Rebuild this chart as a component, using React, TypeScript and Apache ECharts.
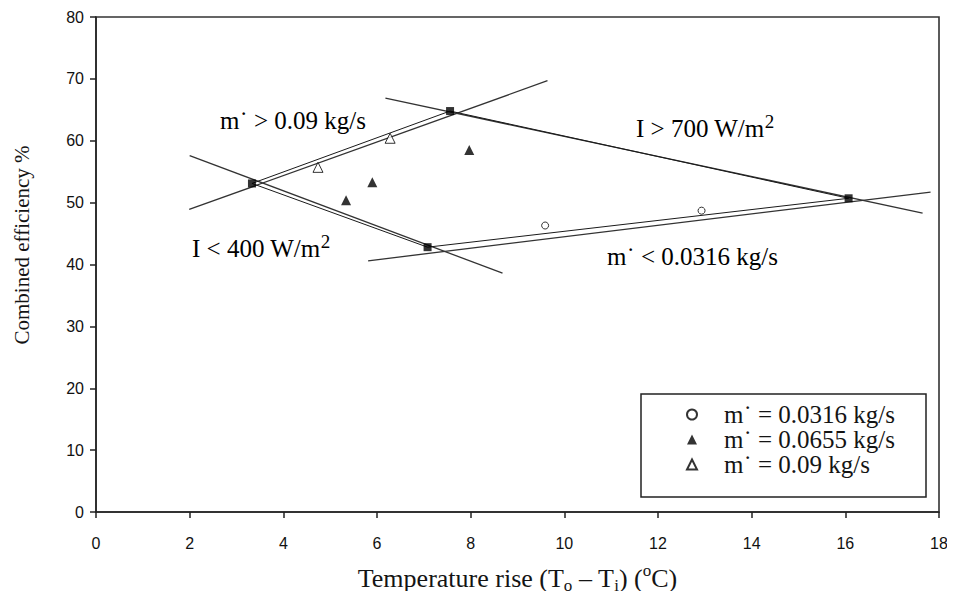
import React, { useEffect, useRef } from "react";
import * as echarts from "echarts";

// Measured points for each mass flow rate
const flow0316: number[][] = [
  [9.59, 46.3],
  [12.93, 48.7],
];
const flow0655: number[][] = [
  [5.34, 50.4],
  [5.9, 53.3],
  [7.97, 58.5],
];
const flow09: number[][] = [
  [4.74, 55.7],
  [6.28, 60.4],
];

// Corner points of the operating envelope
const corners: number[][] = [
  [3.33, 53.1],
  [7.56, 64.8],
  [7.08, 42.8],
  [16.07, 50.7],
];

// Extended boundary lines of the envelope
const lineHighFlow: number[][] = [
  [1.99, 48.9],
  [9.64, 69.7],
];
const lineLowIrr: number[][] = [
  [2.0, 57.6],
  [8.68, 38.6],
];
const lineHighIrr: number[][] = [
  [6.18, 66.9],
  [17.65, 48.3],
];
const lineLowFlow: number[][] = [
  [5.81, 40.6],
  [17.82, 51.7],
];

// Edges joining neighbouring corners
const edges: number[][][] = [
  [corners[0], corners[1]],
  [corners[1], corners[3]],
  [corners[0], corners[2]],
  [corners[2], corners[3]],
];

const xTicks = { min: 0, max: 18, interval: 2 };
const yTicks = { min: 0, max: 80, interval: 10 };

const legendNames = [
  "m\u02D9 = 0.0316 kg/s",
  "m\u02D9 = 0.0655 kg/s",
  "m\u02D9 = 0.09 kg/s",
];

const SERIF = "'Liberation Serif', 'Times New Roman', serif";
const SANS = "'Liberation Sans', Arial, sans-serif";
const INK = "#141414";

const richNote = {
  t: { fontFamily: SERIF, fontSize: 25, color: INK, lineHeight: 32 },
  s: { fontFamily: SERIF, fontSize: 19, color: INK, lineHeight: 19, verticalAlign: "top" },
};

export default function App() {
  const ref = useRef<HTMLDivElement>(null);

  useEffect(() => {
    if (!ref.current) return;
    const chart = echarts.init(ref.current, undefined, { renderer: "svg" });

    const lineSeries = (data: number[][], width: number, color: string) => ({
      type: "line",
      data,
      symbol: "none",
      silent: true,
      lineStyle: { color, width },
      z: 1,
    });

    chart.setOption({
      animation: false,
      backgroundColor: "#fff",
      grid: {
        left: 96,
        right: 16,
        top: 17,
        bottom: 82,
        show: true,
        borderColor: "#333",
        borderWidth: 1.6,
      },
      xAxis: {
        type: "value",
        ...xTicks,
        name: "{a|Temperature rise (T}{sub|o}{a| \u2013 T}{sub|i}{a|) (}{sup|o}{a|C)}",
        nameLocation: "middle",
        nameGap: 50,
        nameTextStyle: {
          rich: {
            a: { fontFamily: SERIF, fontSize: 26, color: INK, lineHeight: 32 },
            sub: { fontFamily: SERIF, fontSize: 17, color: INK, lineHeight: 17, verticalAlign: "bottom" },
            sup: { fontFamily: SERIF, fontSize: 17, color: INK, lineHeight: 17, verticalAlign: "top" },
          },
        },
        splitLine: { show: false },
        axisLine: { onZero: false, lineStyle: { color: "#222", width: 1.5 } },
        axisTick: { inside: false, length: 6, lineStyle: { color: "#222", width: 1.5 } },
        axisLabel: { fontFamily: SANS, fontSize: 16, color: "#111", margin: 23 },
      },
      yAxis: {
        type: "value",
        ...yTicks,
        splitLine: { show: false },
        axisLine: { onZero: false, lineStyle: { color: "#222", width: 1.5 } },
        axisTick: { inside: false, length: 6, lineStyle: { color: "#222", width: 1.5 } },
        axisLabel: { fontFamily: SANS, fontSize: 16, color: "#111", margin: 12 },
      },
      legend: {
        left: 681,
        top: 397,
        orient: "vertical",
        itemWidth: 10,
        itemHeight: 10,
        itemGap: 0,
        data: legendNames,
        textStyle: {
          fontFamily: SERIF,
          fontSize: 25,
          color: INK,
          lineHeight: 25,
          padding: [0, 0, 0, 22],
        },
      },
      graphic: [
        {
          type: "rect",
          shape: { x: 641, y: 394, width: 285, height: 103 },
          style: { fill: "none", stroke: "#222", lineWidth: 1.5 },
          z: 0,
        },
        {
          type: "text",
          x: 22,
          y: 245,
          rotation: Math.PI / 2,
          style: {
            text: "Combined efficiency %",
            fontFamily: SERIF,
            fontSize: 21,
            fill: INK,
            align: "center",
            verticalAlign: "middle",
          },
        },
        {
          type: "text",
          x: 220,
          y: 104,
          style: { text: "{t|m\u02D9 > 0.09 kg/s}", rich: richNote },
        },
        {
          type: "text",
          x: 192,
          y: 232,
          style: { text: "{t|I < 400 W/m}{s|2}", rich: richNote },
        },
        {
          type: "text",
          x: 636,
          y: 112,
          style: { text: "{t|I > 700 W/m}{s|2}", rich: richNote },
        },
        {
          type: "text",
          x: 607,
          y: 240,
          style: { text: "{t|m\u02D9 < 0.0316 kg/s}", rich: richNote },
        },
      ],
      series: [
        lineSeries(lineHighFlow, 1.3, "#333"),
        lineSeries(lineLowIrr, 1.3, "#333"),
        lineSeries(lineHighIrr, 1.3, "#333"),
        lineSeries(lineLowFlow, 1.3, "#333"),
        ...edges.map((e) => lineSeries(e, 1, "#1a1a1a")),
        {
          type: "scatter",
          data: corners,
          symbol: "rect",
          symbolSize: 8,
          itemStyle: { color: "#000" },
          z: 3,
        },
        {
          name: legendNames[0],
          type: "scatter",
          data: flow0316,
          symbol: "circle",
          symbolSize: 7,
          itemStyle: { color: "#fff", borderColor: "#000", borderWidth: 1 },
          z: 3,
        },
        {
          name: legendNames[1],
          type: "scatter",
          data: flow0655,
          symbol: "triangle",
          symbolSize: 10,
          itemStyle: { color: "#000" },
          z: 3,
        },
        {
          name: legendNames[2],
          type: "scatter",
          data: flow09,
          symbol: "triangle",
          symbolSize: 10,
          itemStyle: { color: "#fff", borderColor: "#000", borderWidth: 1 },
          z: 3,
        },
      ],
    });

    return () => chart.dispose();
  }, []);

  return <div ref={ref} style={{ width: 955, height: 599, margin: -8 }} />;
}
